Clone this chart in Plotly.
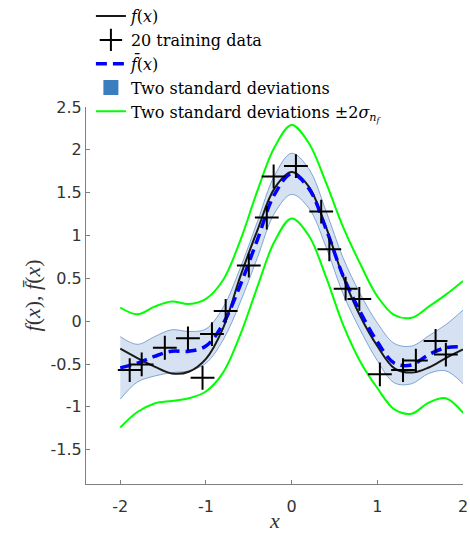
import plotly.graph_objects as go

# ---- data ----
x_grid = [-2.0, -1.8, -1.6, -1.4, -1.2, -1.0, -0.8, -0.6, -0.4, -0.2, 0.0,
          0.2, 0.4, 0.6, 0.8, 1.0, 1.2, 1.4, 1.6, 1.8, 2.0]

f_true = [-0.32, -0.43, -0.53, -0.61, -0.59, -0.44, -0.08, 0.52, 1.06, 1.55, 1.74,
          1.57, 1.10, 0.52, 0.06, -0.29, -0.55, -0.60, -0.54, -0.43, -0.33]

f_mean = [-0.545, -0.49, -0.41, -0.35, -0.35, -0.29, -0.03, 0.42, 0.95, 1.48, 1.72,
          1.55, 1.08, 0.53, 0.11, -0.24, -0.49, -0.51, -0.39, -0.31, -0.30]

band_hi = [-0.18, -0.27, -0.18, -0.10, -0.12, -0.09, 0.16, 0.62, 1.16, 1.70, 1.96,
           1.78, 1.29, 0.74, 0.32, -0.02, -0.26, -0.29, -0.17, -0.04, 0.13]

band_lo = [-0.91, -0.71, -0.64, -0.60, -0.58, -0.49, -0.22, 0.22, 0.74, 1.26, 1.48,
           1.32, 0.87, 0.32, -0.10, -0.46, -0.72, -0.73, -0.61, -0.58, -0.73]

green_hi = [0.16, 0.08, 0.17, 0.23, 0.20, 0.26, 0.48, 0.94, 1.52, 2.03, 2.29,
            2.08, 1.62, 1.10, 0.67, 0.29, 0.07, 0.04, 0.17, 0.31, 0.47]

green_lo = [-1.24, -1.06, -0.96, -0.93, -0.90, -0.82, -0.60, -0.16, 0.40, 0.93, 1.20,
            1.00, 0.52, -0.04, -0.47, -0.78, -1.03, -1.08, -0.95, -0.90, -1.07]

train_x = [-1.89, -1.75, -1.48, -1.21, -1.04, -0.93, -0.77, -0.50, -0.29, -0.21,
           0.05, 0.345, 0.44, 0.63, 0.79, 1.03, 1.30, 1.45, 1.68, 1.80]
train_y = [-0.57, -0.505, -0.31, -0.20, -0.66, -0.15, 0.12, 0.65, 1.21, 1.69,
           1.81, 1.28, 0.84, 0.38, 0.26, -0.62, -0.57, -0.46, -0.23, -0.39]

y_ticks = [-1.5, -1, -0.5, 0, 0.5, 1, 1.5, 2, 2.5]
y_ticktext = ["-1.5", "-1", "-0.5", "0", "0.5", "1", "1.5", "2", "2.5"]
x_ticks = [-2, -1, 0, 1, 2]
x_ticktext = ["-2", "-1", "0", "1", "2"]

x_title = "<i>x</i>"
y_title = "<i>f</i>(<i>x</i>), <i>f\u0304</i>(<i>x</i>)"

SERIF = "Liberation Serif, DejaVu Serif, Times New Roman, serif"
LEGEND_FONT = "DejaVu Serif, Liberation Serif, serif"
BAND_EDGE = "rgba(90,140,200,0.75)"
BAND_FILL = "rgba(60,120,190,0.21)"

fig = go.Figure()

# confidence band
fig.add_trace(go.Scatter(x=x_grid, y=band_lo, mode="lines", line=dict(color=BAND_EDGE, width=1, shape="spline"),
                         showlegend=False, hoverinfo="skip"))
fig.add_trace(go.Scatter(x=x_grid, y=band_hi, mode="lines", line=dict(color=BAND_EDGE, width=1, shape="spline"),
                         fill="tonexty", fillcolor=BAND_FILL, showlegend=False, hoverinfo="skip"))

# green noise bounds
fig.add_trace(go.Scatter(x=x_grid, y=green_hi, mode="lines", line=dict(color="#00ff00", width=2, shape="spline"),
                         name="Two standard deviations ±2<i>σ</i><sub><i>n</i><sub><i>f</i></sub></sub>", legendrank=5))
fig.add_trace(go.Scatter(x=x_grid, y=green_lo, mode="lines", line=dict(color="#00ff00", width=2, shape="spline"),
                         showlegend=False))

# true function
fig.add_trace(go.Scatter(x=x_grid, y=f_true, mode="lines", line=dict(color="#1a1a1a", width=2, shape="spline"),
                         name="<i>f</i>(<i>x</i>)", legendrank=1))

# GP mean
fig.add_trace(go.Scatter(x=x_grid, y=f_mean, mode="lines",
                         line=dict(color="#0000ff", width=3.5, dash="11px,6px", shape="spline"),
                         name="<i>f\u0304</i>(<i>x</i>)", legendrank=3))

# training data
fig.add_trace(go.Scatter(x=train_x, y=train_y, mode="markers",
                         marker=dict(symbol="cross-thin", size=17, line=dict(color="#000000", width=2)),
                         name="20 training data", legendrank=2))

# legend-only swatch for the band
fig.add_trace(go.Scatter(x=[None], y=[None], mode="markers",
                         marker=dict(symbol="square", size=15, color="#3b7dbf"),
                         name="Two standard deviations", legendrank=4))

axis_common = dict(showline=True, linecolor="#808080", linewidth=1, ticks="inside", ticklen=4,
                   tickcolor="#808080", showgrid=False, zeroline=False, automargin=False,
                   tickfont=dict(family="DejaVu Sans", size=16, color="#333333"))

fig.update_layout(
    width=470, height=535,
    margin=dict(l=86, r=7, t=107, b=51, autoexpand=False),
    paper_bgcolor="white", plot_bgcolor="white",
    xaxis=dict(range=[-2.4, 2.0], tickvals=x_ticks, ticktext=x_ticktext, ticklabelstandoff=8,
               **axis_common),
    yaxis=dict(range=[-1.9, 2.5], tickvals=y_ticks, ticktext=y_ticktext, **axis_common),
    legend=dict(x=0.013, y=1.286, xanchor="left", yanchor="top", bgcolor="rgba(0,0,0,0)",
                font=dict(family=LEGEND_FONT, size=16, color="#000000"),
                itemwidth=30, tracegroupgap=0, traceorder="normal"),
    annotations=[
        dict(text=x_title, xref="paper", yref="paper", x=0.5, y=-0.1352, xanchor="center", yanchor="bottom",
             showarrow=False, font=dict(family=SERIF, size=22, color="#333333")),
        dict(text=y_title, xref="paper", yref="paper", x=-0.1406, y=0.5, xanchor="center", yanchor="middle",
             textangle=-90, showarrow=False, font=dict(family=SERIF, size=22, color="#333333")),
    ],
)

# remove the default 8px page margin so the figure fills the window exactly
fig.write_html("out.html", config={"displayModeBar": False},
               post_script="document.body.style.margin='0';")
